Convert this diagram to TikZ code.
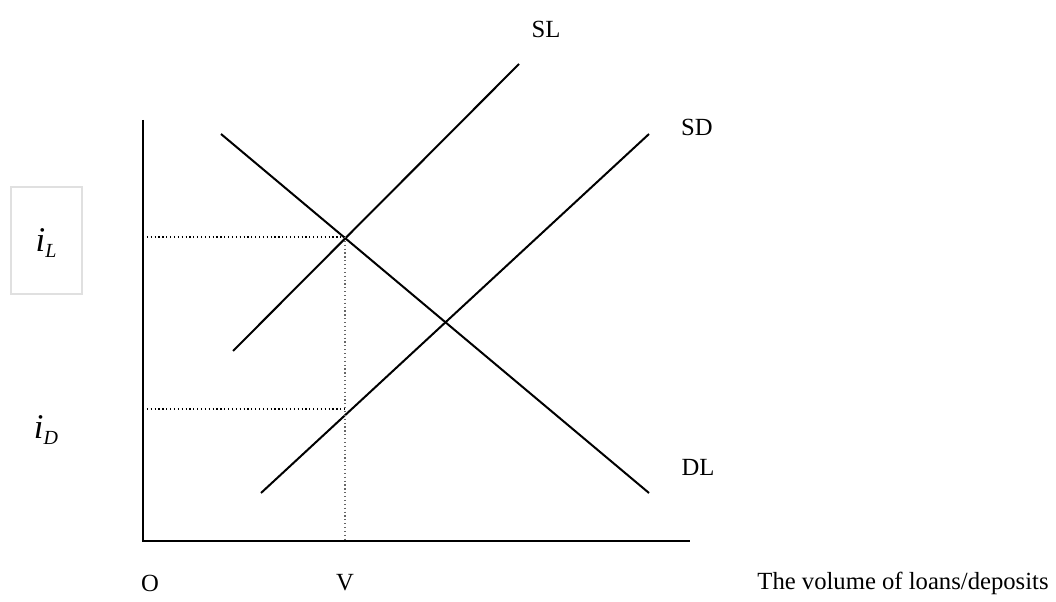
\documentclass[tikz,border=0pt]{standalone}
\usepackage{fontspec}
\setmainfont{Liberation Serif}
\usetikzlibrary{calc,positioning}
\tikzset{
  curve/.style={line width=1.5pt},
  guide/.style={dotted,line width=0.9pt},
  lab/.style={font=\fontsize{18.5}{22}\selectfont,inner sep=0pt}
}
\newcommand{\rate}[1]{{\fontsize{26}{30}\selectfont\textit{i}}\raisebox{-4.5pt}{\fontsize{15}{18}\selectfont\textit{#1}}}
\begin{document}
\begin{tikzpicture}[x=0.75pt,y=-0.75pt]
  \useasboundingbox (0,0) rectangle (1056,602);
  \coordinate (O) at (143,541); % 原点
  \coordinate (ytop) at (143,120);
  \coordinate (xend) at (690,541);
  \draw[line width=2.1pt] (ytop) -- (O) -- (xend); % 軸
  \coordinate (SLa) at (233,351); \coordinate (SLb) at (519,64);
  \coordinate (SDa) at (261,493); \coordinate (SDb) at (649,134);
  \coordinate (DLa) at (221,134); \coordinate (DLb) at (649,493);
  \draw[curve] (SLa) -- (SLb); % 貸出の供給
  \draw[curve] (SDa) -- (SDb); % 預金の供給
  \draw[curve] (DLa) -- (DLb); % 貸出の需要
  \coordinate (EL) at (345,237); % 均衡点
  \coordinate (ED) at (345,409);
  \draw[guide] (O |- EL) -- (EL);
  \draw[guide] (O |- ED) -- (ED);
  \draw[guide,black!60] (EL) -- (EL |- O);
  \node[lab] (sl) at (546,29) {SL};
  \node[lab] (sd) at (697,127) {SD};
  \node[lab] (dl) at (698,467) {DL};
  \node[lab] (o) at (150,583) {O};
  \node[lab] (v) at (345,583) {V};
  \node[lab] (xlab) at (903,583) {The volume of loans/deposits};
  \draw[black!12,line width=0.8pt] (11,187) rectangle (82,294); % i_L の枠
  \node[lab] (iL) at (46,243) {\rate{L}};
  \node[lab] (iD) at (46,430) {\rate{D}};
\end{tikzpicture}
\end{document}
